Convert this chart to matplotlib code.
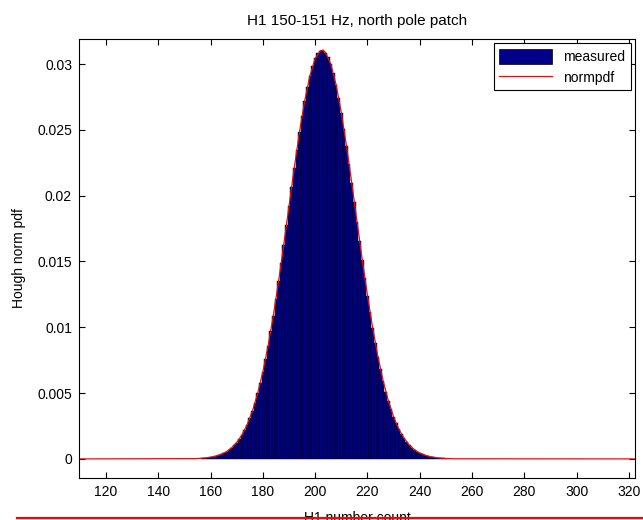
import matplotlib
matplotlib.use("Agg")
import matplotlib.pyplot as plt
from matplotlib.lines import Line2D
from matplotlib.patches import Patch

plt.rcParams["font.family"] = ["Liberation Sans", "DejaVu Sans"]

# measured Hough number count histogram (normalised), one bin per count
bin_start = 157
measured = [
    0.00006, 0.00008, 0.00010, 0.00013, 0.00017, 0.00021, 0.00027, 0.00034, 0.00043, 0.00054,
    0.00067, 0.00083, 0.00102, 0.00124, 0.00151, 0.00182, 0.00219, 0.00261, 0.00309, 0.00364,
    0.00427, 0.00497, 0.00575, 0.00661, 0.00756, 0.00859, 0.00970, 0.01089, 0.01215, 0.01348,
    0.01486, 0.01628, 0.01774, 0.01920, 0.02066, 0.02210, 0.02349, 0.02482, 0.02607, 0.02721,
    0.02824, 0.02912, 0.02986, 0.03042, 0.03081, 0.03102, 0.03104, 0.03087, 0.03051, 0.02998,
    0.02928, 0.02843, 0.02743, 0.02631, 0.02508, 0.02376, 0.02238, 0.02095, 0.01949, 0.01803,
    0.01657, 0.01514, 0.01375, 0.01241, 0.01114, 0.00993, 0.00881, 0.00776, 0.00680, 0.00592,
    0.00512, 0.00440, 0.00376, 0.00320, 0.00270, 0.00227, 0.00189, 0.00157, 0.00129, 0.00106,
    0.00086, 0.00070, 0.00056, 0.00045, 0.00036, 0.00028, 0.00022, 0.00017, 0.00013, 0.00010,
    0.00008, 0.00006, 0.00005, 0.00003,
]

# fitted normal pdf
fit_x = [110, 154, 156, 158, 160, 162, 164, 166, 168, 170, 172, 174, 176, 178, 180, 182, 184,
         186, 188, 190, 192, 194, 196, 198, 200, 202, 203, 204, 206, 208, 210, 212, 214, 216,
         218, 220, 222, 224, 226, 228, 230, 232, 234, 236, 238, 240, 242, 244, 246, 248, 250,
         252, 254, 322]
fit_y = [0.0, 0.000024, 0.000043, 0.000075, 0.000128, 0.000211, 0.000341, 0.000538, 0.000827,
         0.001243, 0.001823, 0.002608, 0.003643, 0.004971, 0.006614, 0.008592, 0.010892,
         0.013479, 0.016283, 0.019201, 0.022098, 0.024818, 0.027212, 0.029122, 0.030420,
         0.031016, 0.031035, 0.030866, 0.029982, 0.028426, 0.026306, 0.023759, 0.020949,
         0.018028, 0.015143, 0.012414, 0.009933, 0.007759, 0.005915, 0.004403, 0.003198,
         0.002267, 0.001568, 0.001059, 0.000698, 0.000449, 0.000282, 0.000173, 0.000104,
         0.000061, 0.000034, 0.000019, 0.000010, 0.0]

x_ticks = [120, 140, 160, 180, 200, 220, 240, 260, 280, 300, 320]
y_ticks = [0, 0.005, 0.01, 0.015, 0.02, 0.025, 0.03]
y_tick_labels = ["0", "0.005", "0.01", "0.015", "0.02", "0.025", "0.03"]

fig = plt.figure(figsize=(6.43, 5.2), dpi=100)
ax = fig.add_axes([79 / 643, 1 - 478 / 520, (635 - 79) / 643, (478 - 39) / 520])

bins = [bin_start + i for i in range(len(measured))]
ax.bar(bins, measured, width=1.0, color="#000088", edgecolor="black", linewidth=0.3)
ax.plot(fit_x, fit_y, color="#e01010", lw=0.9)

ax.set_xlim(109.7, 322.3)
ax.set_ylim(-0.00145, 0.0319)
ax.set_xticks(x_ticks)
ax.set_yticks(y_ticks)
ax.set_yticklabels(y_tick_labels)
ax.tick_params(direction="in", length=4, width=0.8, top=True, right=True, labelsize=10, pad=5)
for side in ax.spines.values():
    side.set_linewidth(0.8)

ax.set_title("H1 150-151 Hz, north pole patch", fontsize=11, pad=10)
ax.set_ylabel("Hough norm pdf", fontsize=10, labelpad=8)
ax.set_xlabel("H1 number count", fontsize=10)
ax.xaxis.set_label_coords(0.5, -0.075)

handles = [Patch(facecolor="#000088", edgecolor="black", linewidth=0.5),
           Line2D([], [], color="#e01010", lw=0.9)]
leg = ax.legend(handles, ["measured", "normpdf"], loc="upper right", fontsize=10,
                fancybox=False, framealpha=1, edgecolor="black", handlelength=3.8,
                handleheight=1.3, borderaxespad=0.3, labelspacing=0.4)
leg.get_frame().set_linewidth(0.8)

# red stroke along the bottom edge of the picture
fig.add_artist(Line2D([17 / 643, 1.0], [1 - 518 / 520, 1 - 518 / 520],
                      color="red", lw=1.6, zorder=10))

fig.savefig("out.png", dpi=100)
